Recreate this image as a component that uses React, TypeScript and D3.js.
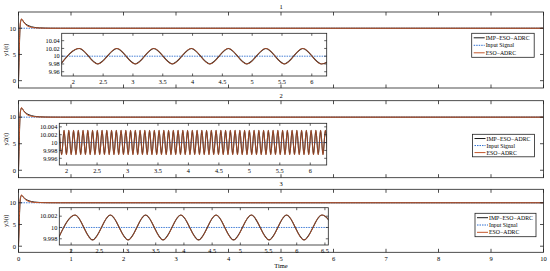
import React from 'react';
import * as d3 from 'd3';

// ---------- data ----------
const mainTime = [0, 0.01, 0.02, 0.03, 0.045, 0.06, 0.08, 0.1, 0.13, 0.16, 0.2, 0.25, 0.3, 0.4, 0.5, 0.6, 0.8, 1.0, 10];
const impMain = [0, 3.5, 7.5, 10.2, 11.4, 11.7, 11.5, 11.2, 10.9, 10.65, 10.45, 10.28, 10.17, 10.07, 10.03, 10.01, 10.0, 10.0, 10.0];
const esoMain = [0, 3.8, 8.0, 10.6, 11.6, 11.8, 11.5, 11.1, 10.75, 10.5, 10.3, 10.15, 10.08, 10.03, 10.01, 10.0, 10.0, 10.0, 10.0];
const inputTime = [0, 10];
const inputValue = [10, 10];

const mainXTicks = [0, 1, 2, 3, 4, 5, 6, 7, 8, 9, 10];
const mainYTicks = [0, 5, 10];
const panelTitles = ['1', '2', '3'];
const yLabels = ['y1(t)', 'y2(t)', 'y3(t)'];
const legendLabels = ['IMP\u2212ESO\u2212ADRC', 'Input Signal', 'ESO\u2212ADRC'];

// inset 1 : extrema of the oscillation
const inset1Time = [1.79, 2.1, 2.41, 2.73, 3.04, 3.35, 3.66, 3.98, 4.29, 4.6, 4.91, 5.23, 5.54, 5.85, 6.16, 6.48];
const inset1Value = [9.98, 10.02, 9.98, 10.02, 9.98, 10.02, 9.98, 10.02, 9.98, 10.02, 9.98, 10.02, 9.98, 10.02, 9.98, 10.02];
const inset1XTicks = [2, 2.5, 3, 3.5, 4, 4.5, 5, 5.5, 6];
const inset1YTicks = [9.96, 9.98, 10, 10.02, 10.04];

// inset 2 : extrema of the fast oscillation
const inset2Time = [
  1.880, 1.919, 1.958, 1.997, 2.036, 2.075, 2.114, 2.153, 2.192, 2.231, 2.270, 2.309, 2.348, 2.387, 2.426, 2.465,
  2.504, 2.543, 2.582, 2.621, 2.660, 2.699, 2.738, 2.777, 2.816, 2.855, 2.894, 2.933, 2.972, 3.011, 3.050, 3.089,
  3.128, 3.167, 3.206, 3.245, 3.284, 3.323, 3.362, 3.401, 3.440, 3.479, 3.518, 3.557, 3.596, 3.635, 3.674, 3.713,
  3.752, 3.791, 3.830, 3.869, 3.908, 3.947, 3.986, 4.025, 4.064, 4.103, 4.142, 4.181, 4.220, 4.259, 4.298, 4.337,
  4.376, 4.415, 4.454, 4.493, 4.532, 4.571, 4.610, 4.649, 4.688, 4.727, 4.766, 4.805, 4.844, 4.883, 4.922, 4.961,
  5.000, 5.039, 5.078, 5.117, 5.156, 5.195, 5.234, 5.273, 5.312, 5.351, 5.390, 5.429, 5.468, 5.507, 5.546, 5.585,
  5.624, 5.663, 5.702, 5.741, 5.780, 5.819, 5.858, 5.897, 5.936, 5.975, 6.014, 6.053, 6.092, 6.131, 6.170, 6.209,
  6.248, 6.287,
];
const inset2Extremes = [10.0031, 9.9969]; // peak, trough alternate
const inset2XTicks = [2, 2.5, 3, 3.5, 4, 4.5, 5, 5.5, 6];
const inset2YTicks = [9.996, 9.998, 10, 10.002, 10.004];

// inset 3 : extrema of the oscillation
const inset3Time = [1.76, 2.07, 2.38, 2.695, 3.01, 3.32, 3.63, 3.945, 4.26, 4.57, 4.88, 5.195, 5.51, 5.82, 6.13, 6.445, 6.76];
const inset3Value = [9.9978, 10.0022, 9.9978, 10.0022, 9.9978, 10.0022, 9.9978, 10.0022, 9.9978, 10.0022, 9.9978, 10.0022, 9.9978, 10.0022, 9.9978, 10.0022, 9.9978];
const inset3XTicks = [2, 2.5, 3, 3.5, 4, 4.5, 5, 5.5, 6, 6.5];
const inset3YTicks = [9.998, 10, 10.002];

// ---------- styles ----------
const FONT = 'Liberation Serif, Times New Roman, serif';
const C_IMP = '#1a1a1a';
const C_INPUT = '#2f6fd0';
const C_ESO = '#c4572c';

type Pt = [number, number];

const zip = (t: number[], v: number[]): Pt[] => t.map((x, i) => [x, v[i]] as Pt);

const inset2Pts: Pt[] = inset2Time.map((t, i) => [t, inset2Extremes[i % 2]] as Pt);

const panels = [
  {
    top: 12, bottom: 88,
    inset: { x0: 61.7, x1: 326.7, y0: 33.3, y1: 76, xd: [1.805, 6.25], yd: [9.949, 10.059],
      xt: inset1XTicks, yt: inset1YTicks, pts: zip(inset1Time, inset1Value) },
    legend: { x: 471.7, y: 33.3, w: 62.5, h: 24 },
  },
  {
    top: 100.7, bottom: 177.7,
    inset: { x0: 59.3, x1: 326.7, y0: 123.3, y1: 165, xd: [1.88, 6.27], yd: [9.9943, 10.0049],
      xt: inset2XTicks, yt: inset2YTicks, pts: inset2Pts },
    legend: { x: 472.5, y: 134.3, w: 62, h: 22.5 },
  },
  {
    top: 189.3, bottom: 252.3,
    inset: { x0: 59.3, x1: 328.3, y0: 207.7, y1: 245, xd: [1.79, 6.56], yd: [9.9969, 10.0035],
      xt: inset3XTicks, yt: inset3YTicks, pts: zip(inset3Time, inset3Value) },
    legend: { x: 475, y: 213.3, w: 61, h: 23.4 },
  },
];

const X0 = 18.5;
const X1 = 543.5;

function fmt(v: number) {
  return String(+v.toFixed(4));
}

export default function App() {
  const x = d3.scaleLinear().domain([0, 10]).range([X0, X1]);

  return (
    <svg width={550} height={271} style={{ position: 'fixed', left: 0, top: 0, background: '#fff' }}
      fontFamily={FONT}>
      <rect x={0} y={0} width={550} height={271} fill="#fff" />
      {panels.map((p, pi) => {
        const y = d3.scaleLinear().domain([-1.4, 13.1]).range([p.bottom, p.top]);
        const line = d3.line<Pt>().x(d => x(d[0])).y(d => y(d[1])).curve(d3.curveMonotoneX);
        const ins = p.inset;
        const ix = d3.scaleLinear().domain(ins.xd).range([ins.x0, ins.x1]);
        const iy = d3.scaleLinear().domain(ins.yd).range([ins.y1, ins.y0]);
        const iline = d3.line<Pt>().x(d => ix(d[0])).y(d => iy(d[1])).curve(d3.curveMonotoneX);
        const flat = d3.line<Pt>().x(d => ix(d[0])).y(d => iy(d[1]));
        const clipMain = `clipm${pi}`;
        const clipIns = `clipi${pi}`;
        const lg = p.legend;
        const rowH = lg.h / 3.2;
        return (
          <g key={pi}>
            <defs>
              <clipPath id={clipMain}>
                <rect x={X0} y={p.top} width={X1 - X0} height={p.bottom - p.top} />
              </clipPath>
              <clipPath id={clipIns}>
                <rect x={ins.x0} y={ins.y0} width={ins.x1 - ins.x0} height={ins.y1 - ins.y0} />
              </clipPath>
            </defs>
            {/* title */}
            <text x={(X0 + X1) / 2} y={p.top - 3} fontSize={6.5} textAnchor="middle">{panelTitles[pi]}</text>
            {/* main curves */}
            <g clipPath={`url(#${clipMain})`}>
              <path d={d3.line<Pt>().x(d => x(d[0])).y(d => y(d[1]))(zip(inputTime, inputValue)) || ''}
                fill="none" stroke={C_INPUT} strokeWidth={0.9} strokeDasharray="1.5,1" />
              <path d={line(zip(mainTime, impMain)) || ''} fill="none" stroke={C_IMP} strokeWidth={1} />
              <path d={line(zip(mainTime, esoMain)) || ''} fill="none" stroke={C_ESO} strokeWidth={1} />
            </g>
            {/* main box */}
            <rect x={X0} y={p.top} width={X1 - X0} height={p.bottom - p.top} fill="none" stroke="#222" strokeWidth={0.8} />
            {mainXTicks.map(t => (
              <g key={'xt' + t}>
                <line x1={x(t)} x2={x(t)} y1={p.bottom} y2={p.bottom - 3.5} stroke="#222" strokeWidth={0.8} />
                <line x1={x(t)} x2={x(t)} y1={p.top} y2={p.top + 3.5} stroke="#222" strokeWidth={0.8} />
                {pi === 2 && (
                  <text x={x(t)} y={p.bottom + 8.5} fontSize={6.5} textAnchor="middle">{t}</text>
                )}
              </g>
            ))}
            {mainYTicks.map(t => (
              <g key={'yt' + t}>
                <line x1={X0} x2={X0 + 3.5} y1={y(t)} y2={y(t)} stroke="#222" strokeWidth={0.8} />
                <line x1={X1} x2={X1 - 3.5} y1={y(t)} y2={y(t)} stroke="#222" strokeWidth={0.8} />
                <text x={X0 - 2.5} y={y(t) + 2.3} fontSize={6.5} textAnchor="end">{t}</text>
              </g>
            ))}
            <text transform={`translate(8.2,${(p.top + p.bottom) / 2}) rotate(-90)`} fontSize={6.5} textAnchor="middle">
              {yLabels[pi]}
            </text>

            {/* inset */}
            <rect x={ins.x0} y={ins.y0} width={ins.x1 - ins.x0} height={ins.y1 - ins.y0} fill="#fff" />
            <g clipPath={`url(#${clipIns})`}>
              <path d={flat(zip(inputTime, inputValue)) || ''} fill="none" stroke={C_INPUT} strokeWidth={0.9}
                strokeDasharray="1.5,1" />
              <path d={iline(ins.pts) || ''} fill="none" stroke={C_IMP} strokeWidth={1.1} />
              <path d={iline(ins.pts) || ''} fill="none" stroke={C_ESO} strokeWidth={0.9} strokeOpacity={0.85} />
            </g>
            <rect x={ins.x0} y={ins.y0} width={ins.x1 - ins.x0} height={ins.y1 - ins.y0} fill="none" stroke="#222" strokeWidth={0.8} />
            {ins.xt.map(t => (
              <g key={'ixt' + t}>
                <line x1={ix(t)} x2={ix(t)} y1={ins.y1} y2={ins.y1 - 2.5} stroke="#222" strokeWidth={0.7} />
                <line x1={ix(t)} x2={ix(t)} y1={ins.y0} y2={ins.y0 + 2.5} stroke="#222" strokeWidth={0.7} />
                <text x={ix(t)} y={ins.y1 + 7.5} fontSize={6.3} textAnchor="middle">{fmt(t)}</text>
              </g>
            ))}
            {ins.yt.map(t => (
              <g key={'iyt' + t}>
                <line x1={ins.x0} x2={ins.x0 + 2.5} y1={iy(t)} y2={iy(t)} stroke="#222" strokeWidth={0.7} />
                <line x1={ins.x1} x2={ins.x1 - 2.5} y1={iy(t)} y2={iy(t)} stroke="#222" strokeWidth={0.7} />
                <text x={ins.x0 - 2} y={iy(t) + 2.2} fontSize={6.3} textAnchor="end">{fmt(t)}</text>
              </g>
            ))}

            {/* legend */}
            <rect x={lg.x} y={lg.y} width={lg.w} height={lg.h} fill="#fff" stroke="#222" strokeWidth={0.8} />
            {legendLabels.map((lab, li) => {
              const ly = lg.y + rowH * (li + 0.6);
              const col = li === 0 ? C_IMP : li === 1 ? C_INPUT : C_ESO;
              return (
                <g key={lab}>
                  <line x1={lg.x + 2} x2={lg.x + 13} y1={ly} y2={ly} stroke={col} strokeWidth={1}
                    strokeDasharray={li === 1 ? '1.5,1' : undefined} />
                  <text x={lg.x + 14} y={ly + 2} fontSize={5.8}>{lab}</text>
                </g>
              );
            })}
          </g>
        );
      })}
      <text x={(X0 + X1) / 2} y={268} fontSize={6.5} textAnchor="middle">Time</text>
    </svg>
  );
}
